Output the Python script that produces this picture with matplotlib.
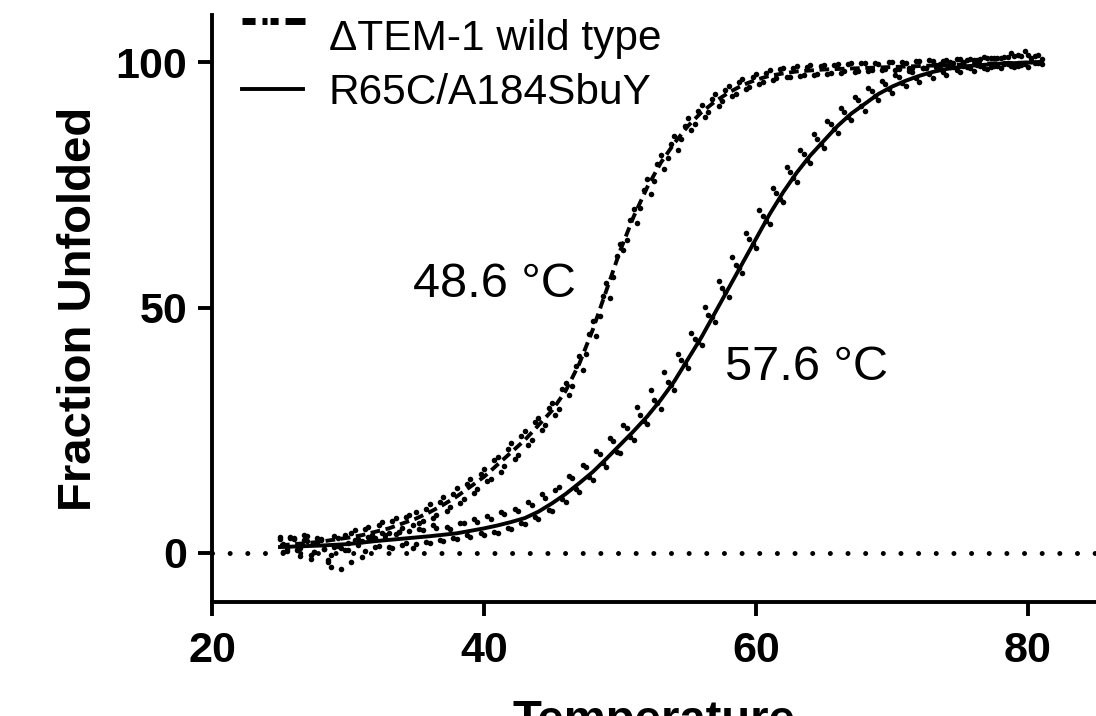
import matplotlib
matplotlib.use("Agg")
import matplotlib.pyplot as plt
from matplotlib.lines import Line2D

plt.rcParams["font.family"] = ["Liberation Sans", "DejaVu Sans"]
plt.rcParams["lines.scale_dashes"] = False

# 温度（两次重复测量，错开 0.25 °C）
temp_a = [25.0, 25.5, 26.0, 26.5, 27.0, 27.5, 28.0, 28.5, 29.0, 29.5,
          30.0, 30.5, 31.0, 31.5, 32.0, 32.5, 33.0, 33.5, 34.0, 34.5,
          35.0, 35.5, 36.0, 36.5, 37.0, 37.5, 38.0, 38.5, 39.0, 39.5,
          40.0, 40.5, 41.0, 41.5, 42.0, 42.5, 43.0, 43.5, 44.0, 44.5,
          45.0, 45.5, 46.0, 46.5, 47.0, 47.5, 48.0, 48.5, 49.0, 49.5,
          50.0, 50.5, 51.0, 51.5, 52.0, 52.5, 53.0, 53.5, 54.0, 54.5,
          55.0, 55.5, 56.0, 56.5, 57.0, 57.5, 58.0, 58.5, 59.0, 59.5,
          60.0, 60.5, 61.0, 61.5, 62.0, 62.5, 63.0, 63.5, 64.0, 64.5,
          65.0, 65.5, 66.0, 66.5, 67.0, 67.5, 68.0, 68.5, 69.0, 69.5,
          70.0, 70.5, 71.0, 71.5, 72.0, 72.5, 73.0, 73.5, 74.0, 74.5,
          75.0, 75.5, 76.0, 76.5, 77.0, 77.5, 78.0, 78.5, 79.0, 79.5,
          80.0, 80.5, 81.0]
temp_b = [25.25, 25.75, 26.25, 26.75, 27.25, 27.75, 28.25, 28.75, 29.25, 29.75,
          30.25, 30.75, 31.25, 31.75, 32.25, 32.75, 33.25, 33.75, 34.25, 34.75,
          35.25, 35.75, 36.25, 36.75, 37.25, 37.75, 38.25, 38.75, 39.25, 39.75,
          40.25, 40.75, 41.25, 41.75, 42.25, 42.75, 43.25, 43.75, 44.25, 44.75,
          45.25, 45.75, 46.25, 46.75, 47.25, 47.75, 48.25, 48.75, 49.25, 49.75,
          50.25, 50.75, 51.25, 51.75, 52.25, 52.75, 53.25, 53.75, 54.25, 54.75,
          55.25, 55.75, 56.25, 56.75, 57.25, 57.75, 58.25, 58.75, 59.25, 59.75,
          60.25, 60.75, 61.25, 61.75, 62.25, 62.75, 63.25, 63.75, 64.25, 64.75,
          65.25, 65.75, 66.25, 66.75, 67.25, 67.75, 68.25, 68.75, 69.25, 69.75,
          70.25, 70.75, 71.25, 71.75, 72.25, 72.75, 73.25, 73.75, 74.25, 74.75,
          75.25, 75.75, 76.25, 76.75, 77.25, 77.75, 78.25, 78.75, 79.25, 79.75,
          80.25, 80.75]

# ΔTEM-1 wild type 测量点
wt_a = [3.2, 0.8, 2.9, 1.1, 3.4, 0.2, 2.8, -1.5, 3.5, 1.0,
        2.0, 4.6, 2.4, 5.3, 3.1, 6.2, 4.0, 7.1, 5.0, 7.8,
        8.4, 6.5, 9.9, 7.8, 11.3, 9.4, 13.2, 11.0, 15.1, 13.0,
        17.2, 15.1, 19.6, 17.8, 22.3, 20.0, 24.8, 23.0, 27.5, 26.0,
        30.5, 29.4, 34.6, 34.0, 40.1, 40.6, 47.2, 48.3, 55.0, 56.2,
        63.0, 63.8, 70.0, 70.2, 76.1, 75.8, 81.0, 80.4, 85.0, 84.3,
        88.6, 87.3, 91.2, 89.9, 93.5, 92.0, 95.2, 93.5, 96.6, 95.0,
        97.6, 95.9, 98.3, 96.7, 98.8, 97.0, 99.2, 97.4, 99.4, 97.6,
        99.5, 97.8, 99.6, 98.1, 99.8, 98.2, 99.9, 98.4, 99.6, 98.6,
        100.0, 98.5, 99.9, 98.8, 100.3, 98.9, 100.2, 99.0, 100.4, 99.1,
        100.6, 99.0, 100.5, 99.3, 100.9, 99.2, 100.8, 99.6, 101.2, 99.5,
        101.5, 99.8, 100.6]
wt_b = [1.9, 3.0, 0.6, 2.6, -0.5, 3.1, 0.9, -2.8, 1.4, 3.6,
        4.0, 1.6, 4.9, 2.8, 5.6, 3.6, 6.5, 4.2, 7.3, 5.6,
        6.1, 9.0, 7.2, 10.4, 8.6, 12.1, 10.2, 14.0, 12.3, 16.0,
        14.6, 18.9, 16.5, 21.2, 19.1, 23.8, 22.0, 26.7, 25.1, 29.6,
        28.2, 33.5, 32.1, 38.0, 37.2, 44.6, 44.1, 52.4, 52.0, 60.5,
        61.8, 67.9, 67.2, 74.0, 73.1, 79.2, 78.2, 83.3, 82.0, 86.9,
        86.1, 90.0, 88.8, 92.4, 91.0, 94.3, 93.0, 95.9, 94.6, 97.0,
        95.6, 97.8, 96.3, 98.5, 96.9, 98.9, 97.1, 99.0, 97.3, 99.3,
        97.5, 99.4, 97.7, 99.7, 98.0, 99.8, 98.1, 99.9, 98.3, 100.1,
        98.4, 100.0, 98.7, 100.2, 98.8, 100.4, 99.0, 100.3, 99.1, 100.6,
        99.2, 100.7, 99.4, 101.0, 99.1, 100.9, 99.6, 101.8, 99.3, 102.2,
        100.2, 101.4]

# R65C/A184SbuY 测量点
mut_a = [2.8, 0.4, 3.0, -0.6, 2.4, 0.1, 2.6, -1.8, 1.2, -3.2,
         0.5, 2.6, -0.9, 3.3, 1.2, 4.0, 1.3, 3.9, 1.7, 4.4,
         1.9, 4.6, 2.0, 5.1, 2.4, 4.9, 2.9, 6.0, 3.3, 6.4,
         3.6, 7.0, 4.1, 7.9, 4.8, 8.6, 5.9, 9.7, 6.9, 11.2,
         8.6, 13.4, 10.3, 15.2, 12.5, 17.6, 14.9, 20.1, 17.6, 22.8,
         20.3, 25.4, 23.1, 28.0, 26.3, 31.2, 29.4, 34.9, 33.2, 39.3,
         37.6, 43.5, 42.4, 48.4, 47.1, 53.9, 52.2, 58.6, 57.1, 63.9,
         62.1, 68.7, 67.0, 73.4, 71.6, 77.6, 75.6, 81.3, 79.4, 84.4,
         82.4, 87.3, 85.6, 89.9, 88.2, 92.3, 90.1, 94.2, 92.2, 95.6,
         93.8, 96.9, 95.2, 98.0, 96.0, 98.8, 96.8, 99.6, 97.4, 99.8,
         97.9, 100.4, 98.2, 100.6, 98.5, 100.9, 98.8, 101.1, 99.0, 101.3,
         99.1, 101.2, 99.6]
mut_b = [0.2, 3.2, 1.5, 3.6, -1.2, 2.2, 0.8, -0.4, 3.0, 0.6,
         -1.9, 2.9, 0.4, 3.6, 1.5, 3.1, 1.0, 4.2, 2.0, 1.1,
         4.9, 2.2, 5.6, 2.6, 5.3, 3.0, 6.1, 3.6, 6.9, 4.0,
         7.5, 4.3, 8.4, 5.1, 9.0, 6.1, 10.4, 7.3, 12.1, 8.8,
         12.9, 10.9, 15.6, 13.1, 17.9, 15.5, 20.8, 18.4, 23.5, 20.6,
         26.1, 23.7, 29.7, 26.9, 33.1, 30.5, 36.8, 34.3, 40.6, 38.5,
         44.9, 43.0, 50.2, 48.0, 55.5, 53.1, 60.2, 58.0, 65.2, 63.0,
         69.8, 67.7, 74.3, 72.2, 78.6, 76.4, 82.1, 80.1, 85.3, 83.4,
         88.0, 86.3, 90.7, 88.8, 92.9, 91.0, 94.8, 93.0, 96.1, 94.5,
         97.3, 95.8, 98.2, 96.7, 98.9, 97.5, 99.4, 98.0, 100.0, 98.4,
         100.1, 98.7, 100.5, 98.9, 100.8, 99.2, 101.0, 99.3, 101.5, 99.6,
         100.9, 99.8]

# 拟合曲线
fit_temp = [25, 26, 27, 28, 29, 30, 31, 32, 33, 34, 35, 36, 37, 38, 39,
            40, 41, 42, 43, 44, 45, 46, 47, 48, 49, 50, 51, 52, 53, 54,
            55, 56, 57, 58, 59, 60, 61, 62, 63, 64, 65, 66, 67, 68, 69,
            70, 71, 72, 73, 74, 75, 76, 77, 78, 79, 80, 81]
wt_fit = [1.5, 1.8, 2.0, 2.3, 2.7, 3.1, 3.6, 4.3, 5.0, 6.0, 7.0, 8.3, 9.8, 11.5, 13.5,
          15.5, 18.0, 20.5, 23.0, 26.0, 29.0, 33.0, 38.5, 45.5, 53.5, 61.5, 68.5, 74.5, 79.5, 83.5,
          87.0, 89.8, 92.0, 93.8, 95.3, 96.4, 97.2, 97.7, 98.1, 98.3, 98.5, 98.6, 98.7, 98.8, 98.9,
          99.0, 99.1, 99.2, 99.3, 99.4, 99.5, 99.6, 99.7, 99.8, 99.85, 99.9, 100.0]
mut_fit = [1.2, 1.3, 1.4, 1.5, 1.65, 1.8, 2.1, 2.4, 2.65, 2.9, 3.15, 3.4, 3.7, 4.0, 4.5,
           5.0, 5.6, 6.3, 7.1, 8.4, 10.1, 12.0, 14.2, 16.5, 19.2, 22.0, 24.8, 27.8, 31.2, 35.0,
           39.5, 44.0, 49.0, 54.0, 59.0, 64.0, 69.0, 73.5, 77.5, 81.0, 84.0, 87.0, 89.5, 91.5, 93.5,
           95.0, 96.2, 97.2, 98.0, 98.6, 99.0, 99.3, 99.5, 99.7, 99.8, 99.9, 100.0]

tm_labels = ["48.6 °C", "57.6 °C"]
x_ticks = [20, 40, 60, 80]
y_ticks = [0, 50, 100]

fig = plt.figure(figsize=(10.96, 7.16), dpi=100)
ax = fig.add_axes([212 / 1096, 114 / 716, 884 / 1096, 587 / 716])

ax.axhline(0, color="black", lw=3.6, linestyle=(0, (0.01, 12.7)),
           dash_capstyle="round", zorder=1)

for tx, ty in [(temp_a, wt_a), (temp_b, wt_b), (temp_a, mut_a), (temp_b, mut_b)]:
    ax.scatter(tx, ty, s=16, color="black", lw=0, zorder=3)

ax.plot(fit_temp, wt_fit, color="black", lw=2.8, linestyle=(0, (7, 4)), zorder=2)
ax.plot(fit_temp, mut_fit, color="black", lw=2.8, zorder=2)

ax.text(34.8, 52.2, tm_labels[0], fontsize=35, ha="left", va="baseline")
ax.text(57.7, 35.2, tm_labels[1], fontsize=35, ha="left", va="baseline")

ax.set_xlim(20, 85)
ax.set_ylim(-10, 109.6)
ax.set_xticks(x_ticks)
ax.set_yticks(y_ticks)
for side in ["top", "right"]:
    ax.spines[side].set_visible(False)
for side in ["left", "bottom"]:
    ax.spines[side].set_linewidth(2.8)
ax.tick_params(axis="both", width=2.8, length=10, direction="out", labelsize=31)
ax.tick_params(axis="x", pad=11)
ax.tick_params(axis="y", pad=8)
for lab in ax.get_xticklabels() + ax.get_yticklabels():
    lab.set_fontweight("bold")

ax.set_ylabel("Fraction Unfolded", fontsize=34, fontweight="bold", labelpad=10)
ax.set_xlabel("Temperature", fontsize=34, fontweight="bold", labelpad=20)

# 图例
h_wt = Line2D([], [], linestyle="none")
h_mut = Line2D([], [], color="black", lw=2.8)
fig.legend([h_wt, h_mut], ["ΔTEM-1 wild type", "R65C/A184SbuY"],
           loc="upper left", bbox_to_anchor=(242 / 1096, 1 - 19 / 716),
           frameon=False, fontsize=30.5, handlelength=1.45, handletextpad=0.6,
           labelspacing=0.33, borderpad=0, borderaxespad=0)
# 图例顶部被截掉的一项
fig.add_artist(Line2D([242 / 1096, 305 / 1096], [1 - 21 / 716, 1 - 21 / 716],
                      color="black", lw=5, solid_capstyle="butt",
                      dash_capstyle="butt",
                      linestyle=(0, (9.4, 5, 3.6, 2.2, 5.8, 5, 14.4, 0))))

fig.savefig("out.png", dpi=100)
